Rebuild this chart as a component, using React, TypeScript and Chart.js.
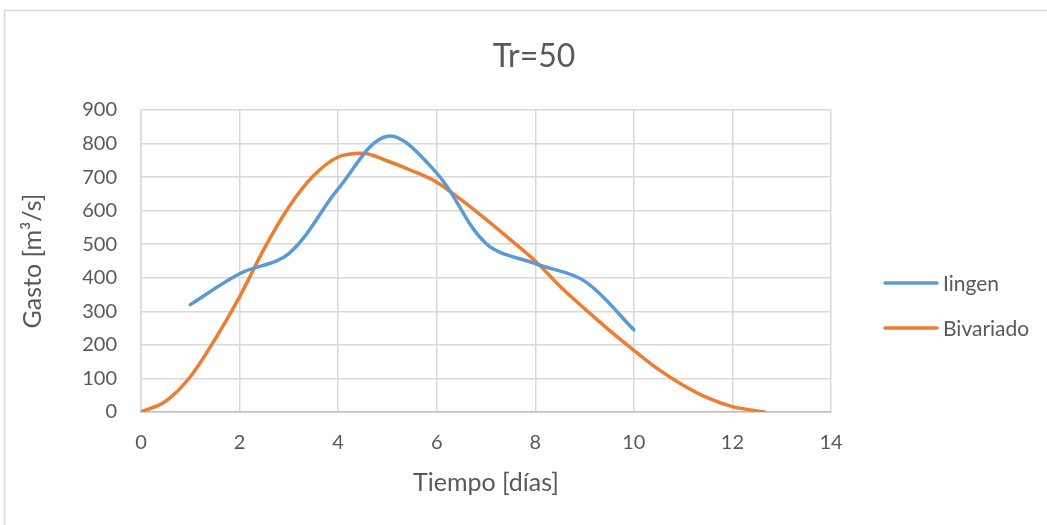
import React, { useEffect, useRef } from "react";
import { Chart, registerables } from "chart.js";

Chart.register(...registerables);

const chartTitle = "Tr=50";
const xAxisTitle = "Tiempo [días]";
const yAxisTitle = "Gasto [m³/s]";

const iingenName = "Iingen";
const iingenX = [1, 2, 3, 4, 5, 6, 7, 8, 9, 10];
const iingenY = [320, 412, 472, 665, 822, 712, 502, 442, 390, 245];

const bivName = "Bivariado";
const bivX = [0, 0.5, 1, 1.5, 2, 2.5, 3, 3.5, 4, 4.5, 5, 5.5, 6, 6.5, 7, 7.5, 8, 8.5, 9, 9.5, 10, 10.5, 11, 11.5, 12, 12.65];
const bivY = [0, 32, 105, 216, 343, 487, 611, 704, 760, 771, 748, 719, 685, 632, 574, 513, 450, 375, 308, 244, 184, 127, 80, 42, 16, 0];

const xMin = 0;
const xMax = 14;
const xStep = 2;
const yMin = 0;
const yMax = 900;
const yStep = 100;

const BLUE = "#5B9BD5";
const ORANGE = "#ED7D31";
const TEXT = "#595959";
const GRID = "#D9D9D9";
const FONT = "Lato, 'Open Sans', sans-serif";

const decorPlugin = {
  id: "decor",
  beforeDraw(chart: any) {
    const ctx = chart.ctx;
    ctx.save();
    ctx.fillStyle = "#ffffff";
    ctx.fillRect(0, 0, chart.width, chart.height);
    ctx.strokeStyle = "#D9D9D9";
    ctx.lineWidth = 1.5;
    ctx.strokeRect(4.5, 10.5, 3000, 3000);
    ctx.restore();
  },
  afterDraw(chart: any) {
    const ctx = chart.ctx;
    ctx.save();
    ctx.fillStyle = TEXT;
    ctx.font = `32px ${FONT}`;
    ctx.textAlign = "center";
    ctx.textBaseline = "alphabetic";
    ctx.fillText(chartTitle, 534, 67);

    const items = [
      { label: iingenName, color: BLUE, y: 283 },
      { label: bivName, color: ORANGE, y: 328 },
    ];
    ctx.font = `21px ${FONT}`;
    ctx.textAlign = "left";
    for (const it of items) {
      ctx.strokeStyle = it.color;
      ctx.lineWidth = 3.5;
      ctx.lineCap = "round";
      ctx.beginPath();
      ctx.moveTo(885, it.y);
      ctx.lineTo(937, it.y);
      ctx.stroke();
      ctx.fillStyle = TEXT;
      ctx.fillText(it.label, 943, it.y + 8);
    }
    ctx.restore();
  },
};

export default function App() {
  const ref = useRef<HTMLCanvasElement | null>(null);
  useEffect(() => {
    if (!ref.current) return;
    const chart = new Chart(ref.current, {
      type: "line",
      data: {
        datasets: [
          {
            label: iingenName,
            data: iingenX.map((x, i) => ({ x, y: iingenY[i] })),
            borderColor: BLUE,
            backgroundColor: BLUE,
            borderWidth: 3.5,
            pointRadius: 0,
            tension: 0.35,
            borderCapStyle: "round",
            fill: false,
          },
          {
            label: bivName,
            data: bivX.map((x, i) => ({ x, y: bivY[i] })),
            borderColor: ORANGE,
            backgroundColor: ORANGE,
            borderWidth: 3.5,
            pointRadius: 0,
            cubicInterpolationMode: "monotone",
            borderCapStyle: "round",
            fill: false,
          },
        ],
      },
      options: {
        animation: false,
        responsive: false,
        maintainAspectRatio: false,
        layout: { padding: { left: 10, top: 110, right: 216, bottom: 20 } },
        plugins: {
          legend: { display: false },
          title: { display: false },
          tooltip: { enabled: false },
        },
        scales: {
          x: {
            type: "linear",
            min: xMin,
            max: xMax,
            afterFit: (s: any) => {
              s.height = 93;
            },
            ticks: {
              stepSize: xStep,
              color: TEXT,
              font: { family: FONT, size: 20 },
              padding: 19,
              maxRotation: 0,
            },
            grid: { color: GRID, lineWidth: 1.5, drawTicks: false },
            border: { color: "#BFBFBF", width: 1.5 },
            title: {
              display: true,
              text: xAxisTitle,
              color: TEXT,
              font: { family: FONT, size: 25 },
              padding: { top: 0, bottom: 7 },
            },
          },
          y: {
            type: "linear",
            min: yMin,
            max: yMax,
            afterFit: (s: any) => {
              s.width = 131;
            },
            ticks: {
              stepSize: yStep,
              color: TEXT,
              font: { family: FONT, size: 20 },
              padding: 24,
            },
            grid: { color: GRID, lineWidth: 1.5, drawTicks: false },
            border: { color: GRID, width: 1.5 },
            title: {
              display: true,
              text: yAxisTitle,
              color: TEXT,
              font: { family: FONT, size: 25 },
              padding: { top: 8, bottom: 0 },
            },
          },
        },
      },
      plugins: [decorPlugin],
    } as any);
    return () => chart.destroy();
  }, []);

  return (
    <div style={{ position: "fixed", left: 0, top: 0, width: 1047, height: 525, overflow: "hidden" }}>
      <canvas ref={ref} width={1047} height={525} style={{ display: "block" }} />
    </div>
  );
}
